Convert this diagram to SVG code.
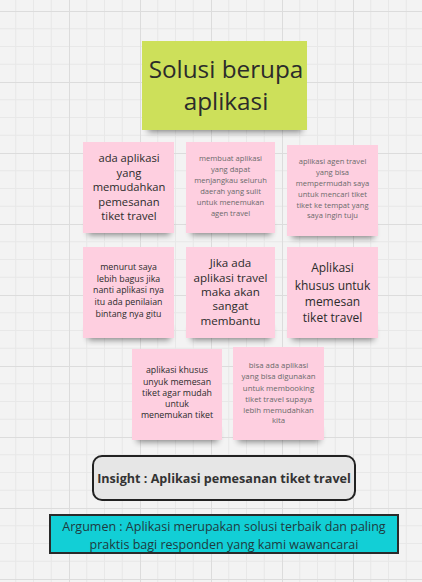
<svg xmlns="http://www.w3.org/2000/svg" width="422" height="582" viewBox="0 0 422 582">
<defs>
<pattern id="grid" x="-2" y="11" width="71" height="71" patternUnits="userSpaceOnUse">
<rect width="71" height="71" fill="#f3f3f3"/>
<path d="M17.75 0V71M35.5 0V71M53.25 0V71M0 17.75H71M0 35.5H71M0 53.25H71" stroke="#e8e8e8" stroke-width="1" fill="none"/>
<path d="M0.5 0V71M0 0.5H71" stroke="#dcdcdc" stroke-width="1" fill="none"/>
</pattern>
<filter id="sh" x="-20%" y="-20%" width="140%" height="160%">
<feGaussianBlur stdDeviation="3"/>
</filter>
<style>
.pink{fill:#fecfe0}
.shd{fill:#000;opacity:0.45;filter:url(#sh)}
text{font-family:"Open Sans","Noto Sans","Liberation Sans",sans-serif;text-anchor:middle}
.dk{fill:#2b2b2b}
.gr{fill:#6a6a6a}
</style>
</defs>
<rect width="422" height="582" fill="url(#grid)"/>

<g id="title">
<rect x="148" y="118" width="154" height="14" class="shd"/>
<rect x="142" y="41" width="165" height="89" fill="#cde05a"/>
<text x="226" y="78" font-size="24.3" class="dk">Solusi berupa</text>
<text x="226" y="110" font-size="24.3" class="dk">aplikasi</text>
</g>

<g id="n1">
<rect x="88" y="222" width="82" height="13" class="shd"/>
<rect x="83" y="142" width="91" height="91" class="pink"/>
<text font-size="11.2" class="dk"><tspan x="129" y="162">ada aplikasi</tspan><tspan x="129" y="176.5">yang</tspan><tspan x="129" y="191">memudahkan</tspan><tspan x="129" y="205.5">pemesanan</tspan><tspan x="129" y="220">tiket travel</tspan></text>
</g>

<g id="n2">
<rect x="191" y="222" width="80" height="13" class="shd"/>
<rect x="186" y="142" width="89" height="91" class="pink"/>
<text font-size="7.6" class="gr"><tspan x="230.5" y="161">membuat aplikasi</tspan><tspan x="230.5" y="172">yang dapat</tspan><tspan x="230.5" y="183">menjangkau seluruh</tspan><tspan x="230.5" y="194">daerah yang sulit</tspan><tspan x="230.5" y="205">untuk menemukan</tspan><tspan x="230.5" y="216">agen travel</tspan></text>
</g>

<g id="n3">
<rect x="292" y="225" width="82" height="13" class="shd"/>
<rect x="287" y="145" width="91" height="91" class="pink"/>
<text font-size="7.6" class="gr"><tspan x="332.5" y="164">aplikasi agen travel</tspan><tspan x="332.5" y="174.5">yang bisa</tspan><tspan x="332.5" y="185.5">mempermudah saya</tspan><tspan x="332.5" y="196.5">untuk mencari tiket</tspan><tspan x="332.5" y="207.5">tiket ke tempat yang</tspan><tspan x="332.5" y="218">saya ingin tuju</tspan></text>
</g>

<g id="n4">
<rect x="88" y="327" width="82" height="13" class="shd"/>
<rect x="83" y="247" width="91" height="91" class="pink"/>
<text font-size="8.8" class="dk"><tspan x="128.5" y="270">menurut saya</tspan><tspan x="128.5" y="281.5">lebih bagus jika</tspan><tspan x="128.5" y="293">nanti aplikasi nya</tspan><tspan x="128.5" y="304.5">itu ada penilaian</tspan><tspan x="128.5" y="317">bintang nya gitu</tspan></text>
</g>

<g id="n5">
<rect x="191" y="327" width="80" height="13" class="shd"/>
<rect x="186" y="247" width="89" height="91" class="pink"/>
<text font-size="11.6" class="dk"><tspan x="230.5" y="267">Jika ada</tspan><tspan x="230.5" y="281.5">aplikasi travel</tspan><tspan x="230.5" y="296">maka akan</tspan><tspan x="230.5" y="310">sangat</tspan><tspan x="230.5" y="324.5">membantu</tspan></text>
</g>

<g id="n6">
<rect x="292" y="327" width="82" height="13" class="shd"/>
<rect x="287" y="247" width="91" height="91" class="pink"/>
<text font-size="12" class="dk"><tspan x="332.5" y="272">Aplikasi</tspan><tspan x="332.5" y="290">khusus untuk</tspan><tspan x="332.5" y="306">memesan</tspan><tspan x="332.5" y="322">tiket travel</tspan></text>
</g>

<g id="n7">
<rect x="137" y="429" width="81" height="13" class="shd"/>
<rect x="132" y="349" width="90" height="91" class="pink"/>
<text font-size="8.8" class="dk"><tspan x="177" y="373">aplikasi khusus</tspan><tspan x="177" y="384.5">unyuk memesan</tspan><tspan x="177" y="396">tiket agar mudah</tspan><tspan x="177" y="406.5">untuk</tspan><tspan x="177" y="418">menemukan tiket</tspan></text>
</g>

<g id="n8">
<rect x="238" y="429" width="82" height="13" class="shd"/>
<rect x="233" y="347" width="91" height="93" class="pink"/>
<text font-size="7.8" class="gr"><tspan x="278.5" y="367.5">bisa ada aplikasi</tspan><tspan x="278.5" y="379">yang bisa digunakan</tspan><tspan x="278.5" y="390.5">untuk membooking</tspan><tspan x="278.5" y="402">tiket travel supaya</tspan><tspan x="278.5" y="412.5">lebih memudahkan</tspan><tspan x="278.5" y="423">kita</tspan></text>
</g>

<g id="insight">
<rect x="93" y="456" width="262" height="44" rx="9" fill="#e6e6e6" stroke="#222" stroke-width="2"/>
<text x="224" y="482.5" font-size="12.6" font-weight="bold" fill="#333">Insight : Aplikasi pemesanan tiket travel</text>
</g>

<g id="argumen">
<rect x="50" y="515" width="348" height="38" fill="#12cfd6" stroke="#2a2a2a" stroke-width="2"/>
<text font-size="12.5" fill="#1f3a40"><tspan x="224" y="530.5">Argumen : Aplikasi merupakan solusi terbaik dan paling</tspan><tspan x="224" y="548.5">praktis bagi responden yang kami wawancarai</tspan></text>
</g>

<g id="connectors"></g>
</svg>
